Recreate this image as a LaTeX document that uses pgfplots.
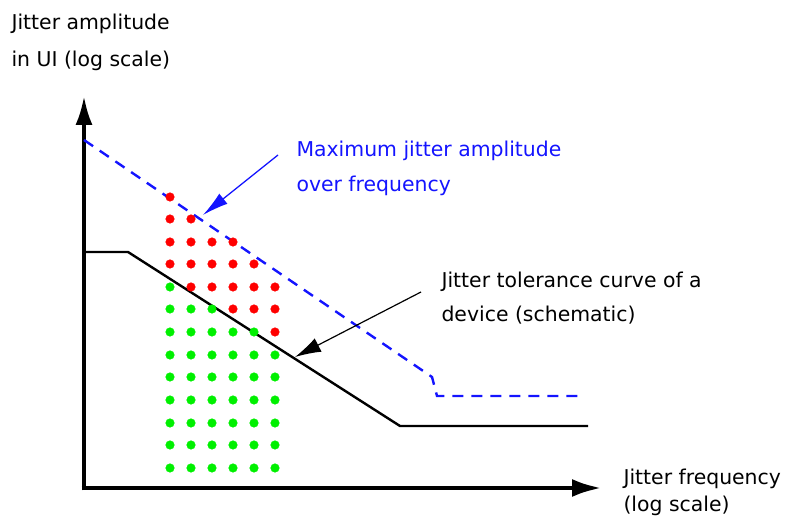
\documentclass[border=0pt]{standalone}
\usepackage{pgfplots}
\pgfplotsset{compat=1.18}
\usepackage{fontspec}
\setmainfont{DejaVu Sans}
\usetikzlibrary{arrows.meta}

\definecolor{jred}{RGB}{255,0,0}
\definecolor{jgreen}{RGB}{0,240,0}
\definecolor{jblue}{RGB}{20,20,255}

\begin{document}
\begin{tikzpicture}[font=\fontsize{20.4pt}{24pt}\selectfont]
\begin{axis}[
    width=790pt, height=524pt,
    scale only axis,
    xmin=-84, xmax=706,
    ymin=-36, ymax=488,
    hide axis,
    clip=false,
]
% frame of the picture (invisible)
\addplot[draw=none] coordinates {(-84,-36) (706,488)};

% axes
\addplot[line width=4.8pt, -{Latex[length=30pt,width=17pt]}] coordinates {(0,-2.4) (0,393)};
\addplot[line width=4.8pt, -{Latex[length=30pt,width=18pt]}] coordinates {(-2.4,0) (518,0)};

% pass points (green)
\addplot[only marks, mark=*, mark size=4.3pt, color=jgreen] coordinates {
    (86,201)
    (86,179) (107,179) (128,179)
    (86,156) (107,156) (128,156) (149,156) (170,156)
    (86,133) (107,133) (128,133) (149,133) (170,133) (191,133)
    (86,111) (107,111) (128,111) (149,111) (170,111) (191,111)
    (86,88)  (107,88)  (128,88)  (149,88)  (170,88)  (191,88)
    (86,65)  (107,65)  (128,65)  (149,65)  (170,65)  (191,65)
    (86,43)  (107,43)  (128,43)  (149,43)  (170,43)  (191,43)
    (86,20)  (107,20)  (128,20)  (149,20)  (170,20)  (191,20)
};

% fail points (red)
\addplot[only marks, mark=*, mark size=4.3pt, color=jred] coordinates {
    (86,291)
    (86,269) (107,269)
    (86,246) (107,246) (128,246) (149,246)
    (86,224) (107,224) (128,224) (149,224) (170,224)
    (107,201) (128,201) (149,201) (170,201) (191,201)
    (149,179) (170,179) (191,179)
    (191,156)
};

% maximum jitter amplitude
\addplot[color=jblue, line width=2.4pt, dash pattern=on 11pt off 8pt] coordinates {
    (0,348) (348,111) (353,92) (498,92)
};

% tolerance curve
\addplot[color=black, line width=2.4pt] coordinates {
    (0,236) (44,236) (316,62) (504,62)
};

% annotation arrows
\addplot[color=jblue, line width=1.3pt, -{Latex[length=26pt,width=13pt]}] coordinates {(194,333) (119,273)};
\addplot[color=black, line width=1.2pt, -{Latex[length=26pt,width=15pt]}] coordinates {(337,196) (211,131)};

% labels
\node[anchor=base west] at (axis cs:-76,458) {Jitter amplitude};
\node[anchor=base west] at (axis cs:-76,421) {in UI (log scale)};
\node[anchor=base west, text=jblue] at (axis cs:209,331) {Maximum jitter amplitude};
\node[anchor=base west, text=jblue] at (axis cs:209,296) {over frequency};
\node[anchor=base west] at (axis cs:354,200) {Jitter tolerance curve of a};
\node[anchor=base west] at (axis cs:354,166) {device (schematic)};
\node[anchor=base west] at (axis cs:536,3) {Jitter frequency};
\node[anchor=base west] at (axis cs:536,-24) {(log scale)};
\end{axis}
\end{tikzpicture}
\end{document}
